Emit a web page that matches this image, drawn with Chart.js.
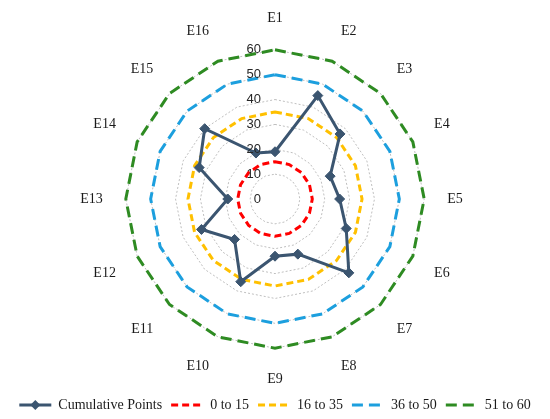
<!DOCTYPE html>
<html>
<head>
<meta charset="utf-8">
<script src="https://cdn.jsdelivr.net/npm/chart.js@4/dist/chart.umd.min.js"></script>
<style>
  html, body { margin: 0; padding: 0; background: #ffffff; }
  #wrap { width: 550px; height: 419px; position: relative; }
</style>
</head>
<body>
<div id="wrap"><canvas id="c" width="550" height="419"></canvas></div>
<script>
const categories = ['E1','E2','E3','E4','E5','E6','E7','E8','E9','E10','E11','E12','E13','E14','E15','E16'];
const cumulativePoints = [19, 45, 37, 24, 26, 31, 42, 24, 23, 36, 23, 32, 19, 33, 40, 20];
const band0to15 = [15,15,15,15,15,15,15,15,15,15,15,15,15,15,15,15];
const band16to35 = [35,35,35,35,35,35,35,35,35,35,35,35,35,35,35,35];
const band36to50 = [50,50,50,50,50,50,50,50,50,50,50,50,50,50,50,50];
const band51to60 = [60,60,60,60,60,60,60,60,60,60,60,60,60,60,60,60];
const tickValues = [0, 10, 20, 30, 40, 50, 60];

const seriesColor = '#3B5570';

function band(label, data, color, dash) {
  return {
    label, data,
    borderColor: color, backgroundColor: color,
    borderWidth: 3, borderDash: dash, borderCapStyle: 'butt',
    pointRadius: 0, pointHoverRadius: 0, fill: false,
    pointStyle: 'line'
  };
}

const tickPlugin = {
  id: 'tickText',
  afterDatasetsDraw(chart) {
    const s = chart.scales.r;
    const ctx = chart.ctx;
    ctx.save();
    ctx.font = '13px "Liberation Sans", Arial, sans-serif';
    ctx.fillStyle = '#262626';
    ctx.textAlign = 'right';
    ctx.textBaseline = 'middle';
    tickValues.forEach(v => {
      const d = s.getDistanceFromCenterForValue(v);
      ctx.fillText(String(v), s.xCenter - 14, s.yCenter - d);
    });
    ctx.restore();
  }
};

const legendMarker = {
  id: 'legendMarker',
  afterDraw(chart) {
    const lg = chart.legend;
    if (!lg || !lg.legendHitBoxes || !lg.legendHitBoxes.length) return;
    const hb = lg.legendHitBoxes[0];
    const bw = lg.options.labels.boxWidth;
    const ctx = chart.ctx;
    const cx = hb.left + bw / 2;
    const cy = hb.top + hb.height / 2;
    ctx.save();
    ctx.fillStyle = seriesColor;
    ctx.beginPath();
    ctx.moveTo(cx, cy - 5);
    ctx.lineTo(cx + 5, cy);
    ctx.lineTo(cx, cy + 5);
    ctx.lineTo(cx - 5, cy);
    ctx.closePath();
    ctx.fill();
    ctx.restore();
  }
};

new Chart(document.getElementById('c'), {
  type: 'radar',
  data: {
    labels: categories,
    datasets: [
      {
        label: 'Cumulative Points',
        data: cumulativePoints,
        borderColor: seriesColor,
        backgroundColor: seriesColor,
        borderWidth: 3,
        pointStyle: 'rectRot',
        pointRadius: 5,
        pointBackgroundColor: seriesColor,
        pointBorderColor: seriesColor,
        pointBorderWidth: 1,
        fill: false
      },
      band('0 to 15', band0to15, '#FF0000', [7, 4]),
      band('16 to 35', band16to35, '#FFC000', [7, 4]),
      band('36 to 50', band36to50, '#1C9FDE', [11, 6]),
      band('51 to 60', band51to60, '#2E8B22', [11, 6])
    ]
  },
  options: {
    responsive: false,
    animation: false,
    layout: { padding: { top: 10, bottom: -3, left: 0, right: 0 } },
    elements: { line: { tension: 0 } },
    scales: {
      r: {
        min: 0, max: 60,
        ticks: { stepSize: 10, display: false },
        grid: { color: '#BFBFBF', lineWidth: 1 },
        border: { dash: [2, 2] },
        angleLines: { display: false },
        pointLabels: {
          padding: 23,
          color: '#1a1a1a',
          font: { family: '"Liberation Serif", "Times New Roman", serif', size: 14 }
        }
      }
    },
    plugins: {
      legend: {
        position: 'bottom',
        labels: {
          usePointStyle: true,
          pointStyle: 'line',
          boxWidth: 32,
          boxHeight: 10,
          pointStyleWidth: 32,
          padding: 9,
          color: '#1a1a1a',
          font: { family: '"Liberation Serif", "Times New Roman", serif', size: 14 },
          generateLabels(chart) {
            return chart.data.datasets.map((ds, i) => ({
              text: ds.label,
              datasetIndex: i,
              fillStyle: ds.borderColor,
              strokeStyle: ds.borderColor,
              fontColor: '#1a1a1a',
              lineWidth: 3,
              lineDash: ds.borderDash || [],
              lineCap: 'butt',
              pointStyle: 'line',
              hidden: false
            }));
          }
        }
      },
      tooltip: { enabled: false }
    }
  },
  plugins: [tickPlugin, legendMarker]
});
</script>
</body>
</html>
